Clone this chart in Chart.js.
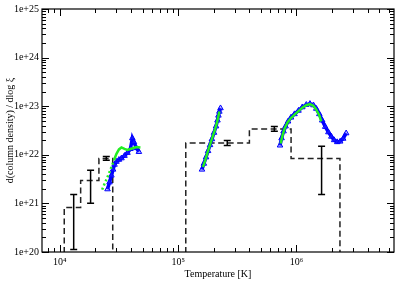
<!DOCTYPE html>
<html><head><meta charset="utf-8">
<script src="https://cdn.jsdelivr.net/npm/chart.js@4/dist/chart.umd.min.js"></script>
<style>html,body{margin:0;padding:0;background:#fff}#wrap{width:399px;height:281px}</style>
</head><body><div id="wrap"><canvas id="c" width="399" height="281"></canvas></div>
<script>
// ---- data ----
const xTickValues = [1e4, 1e5, 1e6];
const yTickValues = [1e20, 1e21, 1e22, 1e23, 1e24, 1e25];

const stepLowEdges = [1.09e4, 1.5e4, 2.14e4, 2.8e4];
const stepLowValues = [8.2e20, 2.95e21, 8.4e21];
const stepHighEdges = [1.16e5, 4.0e5, 9.0e5, 2.33e6];
const stepHighValues = [1.75e22, 3.4e22, 8.4e21];

const errT   = [1.31e4, 1.82e4, 2.47e4, 2.6e5, 6.5e5, 1.63e6];
const errMid = [8.0e20, 2.85e21, 8.4e21, 1.75e22, 3.4e22, 8.4e21];
const errLo  = [1.13e20, 1.01e21, 7.7e21, 1.55e22, 3.05e22, 1.53e21];
const errHi  = [1.53e21, 4.8e21, 9.2e21, 1.97e22, 3.8e22, 1.5e22];

const blueLowT = [2.53e4, 2.63e4, 2.73e4, 2.82e4, 2.90e4, 3.01e4, 3.16e4, 3.32e4, 3.52e4, 3.73e4, 3.95e4, 4.10e4, 4.23e4, 4.43e4, 4.66e4];
const blueLowN = [1.96e21, 2.72e21, 3.76e21, 4.98e21, 6.28e21, 7.22e21, 7.93e21, 8.5e21, 9.55e21, 1.10e22, 1.32e22, 2.20e22, 1.83e22, 1.38e22, 1.15e22];
const blueMidT = [1.59e5, 1.65e5, 1.72e5, 1.79e5, 1.86e5, 1.93e5, 2.01e5, 2.09e5, 2.15e5, 2.19e5, 2.23e5, 2.28e5];
const blueMidN = [4.98e21, 6.58e21, 8.9e21, 1.20e22, 1.59e22, 2.10e22, 2.85e22, 3.86e22, 5.10e22, 6.43e22, 7.74e22, 9.12e22];
const blueHighT = [7.26e5, 7.48e5, 7.78e5, 8.09e5, 8.49e5, 8.99e5, 9.62e5, 1.04e6, 1.12e6, 1.21e6, 1.30e6, 1.39e6, 1.47e6, 1.56e6, 1.65e6, 1.75e6, 1.86e6, 1.97e6, 2.08e6, 2.21e6, 2.34e6, 2.48e6, 2.63e6];
const blueHighN = [1.56e22, 2.20e22, 3.05e22, 3.86e22, 4.86e22, 5.86e22, 6.89e22, 8.11e22, 9.55e22, 1.07e23, 1.12e23, 1.05e23, 8.89e22, 6.89e22, 5.10e22, 3.77e22, 2.92e22, 2.37e22, 2.01e22, 1.83e22, 1.88e22, 2.15e22, 2.78e22];

const greenLowT = [2.28e4, 2.36e4, 2.46e4, 2.56e4, 2.66e4, 2.76e4, 2.87e4, 3.01e4, 3.16e4, 3.32e4, 3.52e4, 3.73e4, 3.95e4, 4.19e4, 4.43e4, 4.80e4];
const greenLowN = [1.92e21, 2.37e21, 2.98e21, 3.76e21, 4.75e21, 6.0e21, 7.74e21, 1.05e22, 1.29e22, 1.42e22, 1.32e22, 1.26e22, 1.32e22, 1.38e22, 1.45e22, 1.42e22];
const greenMidT = [1.62e5, 1.69e5, 1.75e5, 1.82e5, 1.89e5, 1.97e5, 2.05e5, 2.13e5, 2.19e5, 2.23e5];
const greenMidN = [5.59e21, 7.57e21, 1.02e22, 1.38e22, 1.83e22, 2.48e22, 3.35e22, 4.64e22, 6.28e22, 7.74e22];
const greenHighT = [7.35e5, 7.63e5, 7.93e5, 8.40e5, 8.91e5, 9.62e5, 1.04e6, 1.12e6, 1.21e6, 1.30e6, 1.39e6, 1.47e6, 1.56e6, 1.62e6];
const greenHighN = [1.71e22, 2.54e22, 3.43e22, 4.64e22, 5.59e22, 6.73e22, 7.93e22, 9.33e22, 1.05e23, 1.10e23, 1.02e23, 8.49e22, 6.43e22, 4.86e22];

// ---- helpers ----
const FLOOR = 1e19;
function stepPoints(edges, vals) {
  const pts = [{x: edges[0], y: FLOOR}];
  vals.forEach((v, i) => pts.push({x: edges[i], y: v}));
  pts.push({x: edges[edges.length - 1], y: vals[vals.length - 1]});
  pts.push({x: edges[edges.length - 1], y: FLOOR});
  return pts;
}
const pairs = (xs, ys) => xs.map((x, i) => ({x, y: ys[i]}));
const FONT = "'Liberation Serif', 'DejaVu Serif', serif";

function stepDs(edges, vals) {
  return {data: stepPoints(edges, vals), stepped: true, borderColor: '#222', borderWidth: 1.5,
    borderDash: [6, 3.5], pointRadius: 0, fill: false, order: 3};
}
function blueDs(xs, ys) {
  return {data: pairs(xs, ys), borderColor: '#0000ff', borderWidth: 3.5, pointStyle: 'triangle',
    pointRadius: 3.2, pointBorderColor: '#0000ff', pointBorderWidth: 1, pointBackgroundColor: 'rgba(60,60,255,0.35)',
    fill: false, tension: 0, order: 2};
}
function greenDs(xs, ys, dashedSegs) {
  return {data: pairs(xs, ys), borderColor: '#22ee22', borderWidth: 2.5, pointRadius: 0, fill: false,
    tension: 0, order: 1,
    segment: {borderDash: ctx => ctx.p0DataIndex < dashedSegs ? [2, 2.5] : undefined}};
}

const frameTicks = {
  id: 'frameTicks',
  afterDatasetsDraw(chart) {
    const {ctx, chartArea: a, scales: {x, y}} = chart;
    ctx.save();
    ctx.beginPath();
    ctx.rect(a.left, a.top, a.right - a.left, a.bottom - a.top);
    ctx.clip();
    ctx.strokeStyle = '#000'; ctx.lineWidth = 1.5;
    errT.forEach((t, i) => {
      const px = x.getPixelForValue(t), lo = y.getPixelForValue(errLo[i]), hi = y.getPixelForValue(errHi[i]);
      ctx.beginPath();
      ctx.moveTo(px, lo); ctx.lineTo(px, hi);
      ctx.moveTo(px - 3.5, lo); ctx.lineTo(px + 3.5, lo);
      ctx.moveTo(px - 3.5, hi); ctx.lineTo(px + 3.5, hi);
      ctx.stroke();
    });
    ctx.restore();
  },
  afterDraw(chart) {
    const {ctx, chartArea: a, scales: {x, y}} = chart;
    ctx.save();
    ctx.strokeStyle = '#000'; ctx.lineWidth = 1.2;
    ctx.strokeRect(a.left, a.top, a.right - a.left, a.bottom - a.top);
    ctx.lineWidth = 1;
    ctx.beginPath();
    for (let k = 3; k <= 7; k++) for (let m = 1; m <= 9; m++) {
      const v = m * Math.pow(10, k);
      if (v < x.min || v > x.max) continue;
      const px = Math.round(x.getPixelForValue(v)) + 0.5, len = m === 1 ? 7 : 4;
      ctx.moveTo(px, a.bottom); ctx.lineTo(px, a.bottom - len);
      ctx.moveTo(px, a.top); ctx.lineTo(px, a.top + len);
    }
    for (let k = 19; k <= 25; k++) for (let m = 1; m <= 9; m++) {
      const v = m * Math.pow(10, k);
      if (v < y.min * 0.999 || v > y.max * 1.001) continue;
      const py = Math.round(y.getPixelForValue(v)) + 0.5, len = m === 1 ? 7 : 4;
      ctx.moveTo(a.left, py); ctx.lineTo(a.left + len, py);
      ctx.moveTo(a.right, py); ctx.lineTo(a.right - len, py);
    }
    ctx.stroke();
    ctx.restore();
  }
};

const supers = {'4': '⁴', '5': '⁵', '6': '⁶'};

new Chart(document.getElementById('c'), {
  type: 'line',
  data: {datasets: [
    greenDs(greenLowT, greenLowN, 6), greenDs(greenMidT, greenMidN, 0), greenDs(greenHighT, greenHighN, 0),
    blueDs(blueLowT, blueLowN), blueDs(blueMidT, blueMidN), blueDs(blueHighT, blueHighN),
    stepDs(stepLowEdges, stepLowValues), stepDs(stepHighEdges, stepHighValues)
  ]},
  options: {
    responsive: false, animation: false, devicePixelRatio: 1,
    layout: {padding: {top: 5, right: 3, left: 0, bottom: 0}},
    plugins: {legend: {display: false}, tooltip: {enabled: false}},
    scales: {
      x: {type: 'logarithmic', min: 7070, max: 6.67e6,
        grid: {display: false, drawTicks: false}, border: {display: false},
        afterBuildTicks: s => { s.ticks = xTickValues.map(v => ({value: v})); },
        afterFit: s => { s.height = 29; },
        ticks: {autoSkip: false, maxRotation: 0, padding: 4, color: '#000',
          font: {family: FONT, size: 10},
          callback: v => '10' + supers[String(Math.round(Math.log10(v)))]},
        title: {display: true, text: 'Temperature [K]', color: '#000', font: {family: FONT, size: 10},
          padding: {top: 0, bottom: 1}}
      },
      y: {type: 'logarithmic', min: 1e20, max: 1e25,
        grid: {display: false, drawTicks: false}, border: {display: false},
        afterBuildTicks: s => { s.ticks = yTickValues.map(v => ({value: v})); },
        afterFit: s => { s.width = 42; },
        ticks: {autoSkip: false, padding: 3, color: '#000', font: {family: FONT, size: 10},
          callback: v => '1e+' + Math.round(Math.log10(v))},
        title: {display: true, text: 'd(column density) / dlog ξ', color: '#000',
          font: {family: FONT, size: 10}, padding: {top: 4, bottom: 0}}
      }
    }
  },
  plugins: [frameTicks]
});
</script></body></html>
